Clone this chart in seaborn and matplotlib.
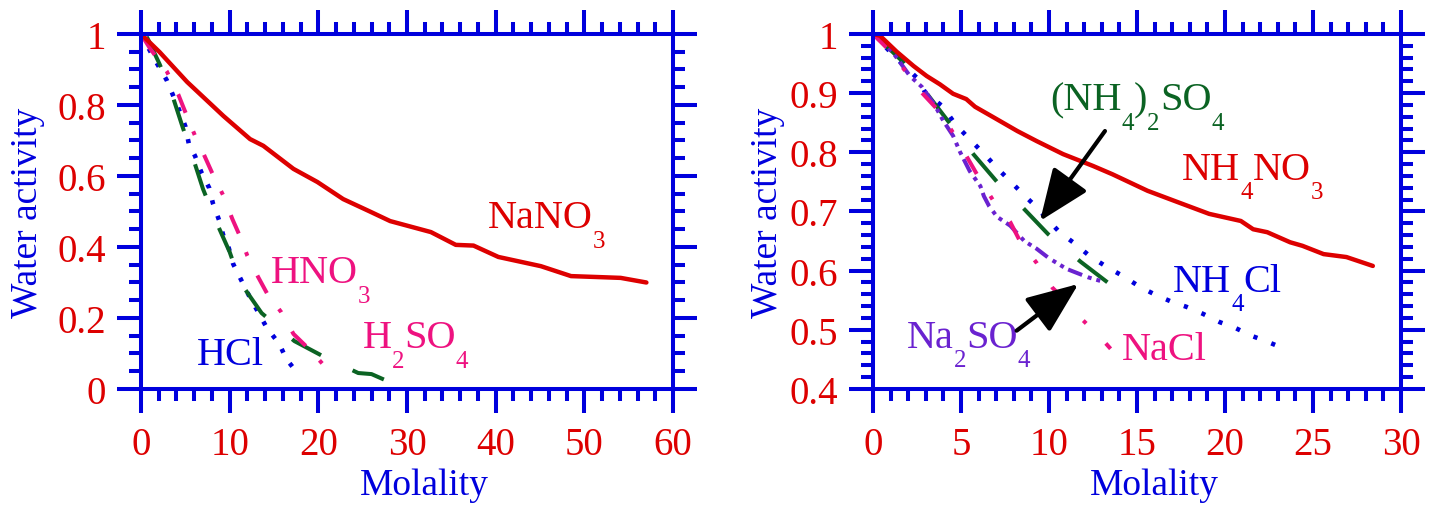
import matplotlib
matplotlib.use("Agg")
import matplotlib.pyplot as plt
import matplotlib.transforms as mtransforms
from matplotlib.ticker import MultipleLocator
import seaborn as sns
import pandas as pd

# ---------------- data ----------------
# left panel
nano3_m = [0, 2.1, 5.2, 9.3, 12.3, 13.8, 17.2, 19.9, 22.8, 25.9, 28.1, 32.7, 35.5, 37.5, 40.3, 45.1, 48.5, 51.9, 54.1, 57.0]
nano3_a = [1.0, 0.949, 0.865, 0.769, 0.704, 0.685, 0.62, 0.583, 0.535, 0.499, 0.473, 0.442, 0.406, 0.404, 0.372, 0.346, 0.318, 0.315, 0.313, 0.30]
hcl_m = [0, 1.5, 2.9, 4.4, 5.0, 5.4, 6.1, 6.8, 7.7, 8.1, 8.8, 9.3, 9.9, 10.4, 11.3, 12.2, 14.2, 15.6, 16.4, 17.9]
hcl_a = [1.0, 0.93, 0.87, 0.78, 0.74, 0.69, 0.656, 0.611, 0.566, 0.524, 0.476, 0.431, 0.397, 0.352, 0.307, 0.262, 0.172, 0.127, 0.084, 0.037]
hno3_m = [0, 1.0, 2.9, 4.2, 5.0, 6.1, 7.1, 8.0, 9.3, 10.3, 11.2, 12.0, 13.2, 14.2, 15.8, 17.2, 19.3, 21.5]
hno3_a = [1.0, 0.96, 0.895, 0.83, 0.78, 0.713, 0.66, 0.61, 0.544, 0.479, 0.428, 0.375, 0.316, 0.27, 0.217, 0.155, 0.104, 0.042]
h2so4_m = [0, 0.7, 2.1, 3.5, 4.6, 5.9, 7.0, 8.5, 10.0, 11.2, 13.6, 17.3, 20.7, 24.5, 26.0, 28.0]
h2so4_a = [1.0, 0.99, 0.915, 0.83, 0.745, 0.648, 0.563, 0.47, 0.386, 0.30, 0.214, 0.135, 0.09, 0.045, 0.042, 0.02]

# right panel
nh4no3_m = [0, 0.4, 1.35, 2.3, 3.05, 3.8, 4.55, 5.3, 5.8, 6.8, 8.2, 9.3, 10.8, 12.5, 13.6, 15.6, 17.3, 19.1, 20.9, 21.6, 22.4, 23.7, 24.4, 25.6, 26.9, 28.4]
nh4no3_a = [1.0, 0.997, 0.970, 0.946, 0.929, 0.915, 0.899, 0.89, 0.877, 0.86, 0.836, 0.819, 0.797, 0.777, 0.763, 0.735, 0.716, 0.696, 0.684, 0.67, 0.665, 0.648, 0.642, 0.628, 0.623, 0.608]
nh4cl_m = [0, 1.3, 2.56, 2.95, 3.98, 4.66, 5.5, 6.42, 7.1, 7.84, 8.5, 9.2, 9.94, 10.6, 11.5, 12.3, 13.3, 14.2, 15.2, 16.0, 17.0, 17.8, 18.75, 19.7, 20.6, 21.5, 22.4, 23.3]
nh4cl_a = [1.0, 0.96, 0.924, 0.902, 0.877, 0.848, 0.822, 0.794, 0.772, 0.75, 0.73, 0.71, 0.686, 0.665, 0.645, 0.625, 0.606, 0.591, 0.572, 0.56, 0.547, 0.539, 0.527, 0.513, 0.503, 0.49, 0.48, 0.469]
as_m = [0, 1.1, 1.7, 3.07, 4.26, 5.7, 7.05, 8.4, 9.94, 11.8, 13.6]
as_a = [1.0, 0.97, 0.953, 0.899, 0.853, 0.797, 0.75, 0.71, 0.662, 0.615, 0.574]
na2so4_m = [0, 1.1, 2.1, 2.8, 3.5, 4.0, 4.55, 4.94, 5.5, 6.1, 6.3, 6.6, 7.05, 7.8, 8.6, 9.3, 10.0, 11.0, 12.2, 13.1]
na2so4_a = [1.0, 0.97, 0.929, 0.91, 0.88, 0.853, 0.828, 0.801, 0.768, 0.743, 0.726, 0.709, 0.691, 0.676, 0.65, 0.637, 0.621, 0.603, 0.589, 0.581]
nacl_m = [0, 1.0, 2.8, 3.8, 4.66, 5.4, 6.0, 6.8, 7.8, 8.35, 9.3, 10.2, 10.9, 11.9, 12.9, 13.5]
nacl_a = [1.0, 0.97, 0.9, 0.868, 0.828, 0.789, 0.758, 0.72, 0.682, 0.65, 0.613, 0.571, 0.55, 0.517, 0.488, 0.468]

left_xticks = [0, 10, 20, 30, 40, 50, 60]
left_xlabels = ["0", "10", "20", "30", "40", "50", "60"]
left_yticks = [0, 0.2, 0.4, 0.6, 0.8, 1.0]
left_ylabels = ["0", "0.2", "0.4", "0.6", "0.8", "1"]
right_xticks = [0, 5, 10, 15, 20, 25, 30]
right_xlabels = ["0", "5", "10", "15", "20", "25", "30"]
right_yticks = [0.4, 0.5, 0.6, 0.7, 0.8, 0.9, 1.0]
right_ylabels = ["0.4", "0.5", "0.6", "0.7", "0.8", "0.9", "1"]

# ---------------- style ----------------
sns.set_theme(style="white")
plt.rcParams["font.family"] = ["Liberation Serif", "DejaVu Serif"]
plt.rcParams["lines.scale_dashes"] = False

BLUE = "#0000DD"
RED = "#DD0000"
GREEN = "#0B6323"
PINK = "#EE1280"
PURPLE = "#6A22D0"

fig = plt.figure(figsize=(14.38, 5.06), dpi=100)
axL = fig.add_axes([0.09805, 0.22925, 0.36996, 0.70158])
axR = fig.add_axes([0.60709, 0.22925, 0.36718, 0.70158])


def draw(ax, m, a, color, lw, ls):
    df = pd.DataFrame({"m": m, "a": a})
    sns.lineplot(data=df, x="m", y="a", ax=ax, color=color, estimator=None,
                 sort=False, errorbar=None, legend=False)
    line = ax.lines[-1]
    line.set_linewidth(lw)
    line.set_linestyle(ls)
    line.set_dash_capstyle("butt")
    line.set_solid_capstyle("round")
    line.set_solid_joinstyle("round")
    return line


# left panel
draw(axL, hcl_m, hcl_a, BLUE, 3.3, (0, (3.0, 8.9)))
draw(axL, h2so4_m, h2so4_a, GREEN, 2.9, (44.2, (23.8, 25.2)))
draw(axL, hno3_m, hno3_a, PINK, 2.9, (43.9, (14.4, 14.4, 2.9, 15.8)))
draw(axL, nano3_m, nano3_a, RED, 3.2, "-")

# right panel
draw(axR, nh4cl_m, nh4cl_a, BLUE, 3.3, (0, (3.0, 10.7)))
draw(axR, as_m, as_a, GREEN, 2.9, (49.7, (26.6, 27.4)))
draw(axR, na2so4_m, na2so4_a, PURPLE, 2.9, (0, (10.8, 4.3, 2.9, 3.6, 2.9, 3.6)))
draw(axR, nacl_m, nacl_a, PINK, 2.9, (0.8, (14.4, 18.7, 2.9, 20.2)))
draw(axR, nh4no3_m, nh4no3_a, RED, 3.2, "-")


def style_axis(ax, xlim, ylim, xt, xl, yt, yl, xminor, yminor, ylab_x):
    ax.set_xlim(*xlim)
    ax.set_ylim(*ylim)
    ax.set_xticks(xt)
    ax.set_xticklabels(xl)
    ax.set_yticks(yt)
    ax.set_yticklabels(yl)
    ax.xaxis.set_minor_locator(MultipleLocator(xminor))
    ax.yaxis.set_minor_locator(MultipleLocator(yminor))
    ax.tick_params(which="both", direction="out", top=True, right=True,
                   bottom=True, left=True,
                   color=BLUE, labelcolor=RED, width=2.9, labelsize=28, pad=8)
    ax.tick_params(axis="x", which="both", pad=9)
    ax.tick_params(which="major", length=17.3)
    ax.tick_params(which="minor", length=8.3)
    for s in ax.spines.values():
        s.set_color(BLUE)
        s.set_linewidth(2.9)
    ax.set_xlabel("Molality", color=BLUE, fontsize=27)
    ax.set_ylabel("Water activity", color=BLUE, fontsize=27)
    ax.xaxis.set_label_coords(0.533, -0.2225)
    ax.yaxis.set_label_coords(ylab_x, 0.5)
    ax.grid(False)


style_axis(axL, (0, 60), (0, 1), left_xticks, left_xlabels, left_yticks, left_ylabels, 2, 0.05, -0.18)
style_axis(axR, (0, 30), (0.4, 1), right_xticks, right_xlabels, right_yticks, right_ylabels, 1, 0.02, -0.167)

FS = 29
renderer = fig.canvas.get_renderer()


def chem(ax, x, y, parts, color, fs=FS):
    """Write a formula piece by piece: parts is a list of (text, is_subscript)."""
    dx = 0.0
    for s, sub in parts:
        size = fs * 0.62 if sub else fs
        dy = -14.0 if sub else 0.0
        tr = mtransforms.offset_copy(ax.transData, fig=fig, x=dx, y=dy, units="points")
        t = ax.text(x, y, s, transform=tr, fontsize=size, color=color,
                    ha="left", va="baseline")
        dx += t.get_window_extent(renderer).width * 72.0 / fig.dpi


chem(axL, 39.1, 0.456, [("NaNO", False), ("3", True)], RED)
chem(axL, 14.6, 0.301, [("HNO", False), ("3", True)], PINK)
chem(axL, 6.3, 0.070, [("HCl", False)], BLUE)
chem(axL, 25.0, 0.118, [("H", False), ("2", True), ("SO", False), ("4", True)], PINK)

chem(axR, 10.06, 0.873, [("(NH", False), ("4", True), (")", False), ("2", True), ("SO", False), ("4", True)], GREEN)
chem(axR, 17.56, 0.755, [("NH", False), ("4", True), ("NO", False), ("3", True)], RED)
chem(axR, 17.05, 0.566, [("NH", False), ("4", True), ("Cl", False)], BLUE)
chem(axR, 1.93, 0.471, [("Na", False), ("2", True), ("SO", False), ("4", True)], PURPLE)
chem(axR, 14.15, 0.451, [("NaCl", False)], PINK)

arrow_kw = dict(arrowstyle="-|>,head_length=1.6,head_width=0.65", color="black",
                lw=3, mutation_scale=20, shrinkA=0, shrinkB=0)
axR.annotate("", xy=(9.49, 0.684), xytext=(13.18, 0.836), arrowprops=arrow_kw)
axR.annotate("", xy=(11.67, 0.5775), xytext=(8.16, 0.4986), arrowprops=arrow_kw)

fig.savefig("out.png", dpi=100)
